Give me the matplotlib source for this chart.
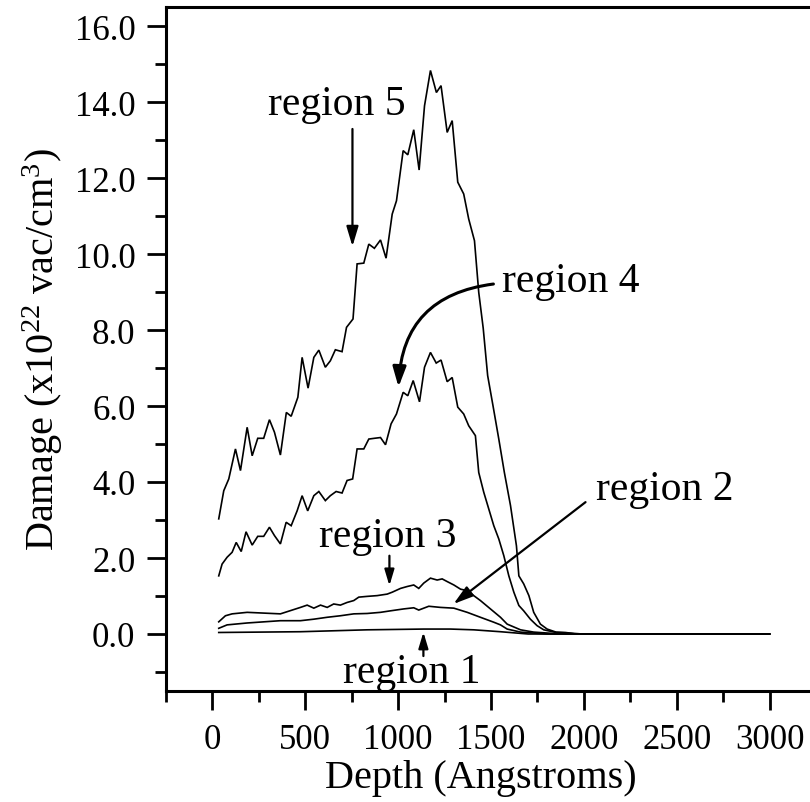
import matplotlib
matplotlib.use("Agg")
import matplotlib.pyplot as plt
from matplotlib.ticker import MultipleLocator, FormatStrFormatter

# values (depth in Angstroms, damage in 1e22 vac/cm^3)
REGION5_X = [34, 61, 88, 124, 151, 187, 214, 244, 276, 307, 334, 366, 398, 424, 460, 483,
             515, 546, 573, 608, 635, 662, 698, 722, 757, 779, 815, 842, 872, 905, 935, 968,
             991, 1027, 1052, 1084, 1113, 1142, 1174, 1206, 1231, 1264, 1291, 1321, 1353,
             1380, 1411, 1434, 1458, 1482, 1511, 1542, 1572, 1605, 1637, 1650, 1676, 1704,
             1730, 1766, 1802, 1850, 1900, 1950, 2000, 3000]
REGION5_Y = [3.03, 3.77, 4.08, 4.87, 4.30, 5.44, 4.69, 5.15, 5.15, 5.64, 5.31, 4.71, 5.83, 5.73,
             6.23, 7.28, 6.47, 7.28, 7.47, 7.02, 7.19, 7.48, 7.43, 8.07, 8.29, 9.74, 9.76, 10.26,
             10.15, 10.37, 9.89, 11.05, 11.40, 12.72, 12.61, 13.27, 12.21, 13.90, 14.83, 14.25,
             14.43, 13.20, 13.51, 11.89, 11.58, 10.92, 10.35, 8.99, 8.05, 6.80, 6.00, 5.13, 4.25,
             3.38, 2.32, 1.53, 1.32, 1.01, 0.57, 0.26, 0.13, 0.05, 0.04, 0.01, 0.0, 0.0]

REGION4_X = [34, 52, 79, 106, 128, 155, 181, 214, 244, 276, 307, 334, 366, 397, 424, 456, 483,
             513, 546, 573, 608, 635, 666, 698, 725, 755, 779, 815, 842, 872, 905, 932, 962,
             991, 1027, 1052, 1081, 1115, 1142, 1174, 1205, 1231, 1264, 1291, 1321, 1353,
             1380, 1416, 1434, 1461, 1488, 1515, 1542, 1569, 1596, 1623, 1650, 1676, 1712,
             1748, 1784, 1850, 1900, 1950, 2000, 3000]
REGION4_Y = [1.53, 1.84, 2.02, 2.15, 2.41, 2.17, 2.69, 2.34, 2.57, 2.57, 2.81, 2.59, 2.37, 2.94,
             2.85, 3.24, 3.64, 3.24, 3.64, 3.75, 3.51, 3.64, 3.75, 3.71, 4.04, 4.08, 4.87, 4.87,
             5.13, 5.15, 5.17, 4.98, 5.53, 5.79, 6.36, 6.27, 6.67, 6.11, 7.02, 7.41, 7.13, 7.21,
             6.64, 6.75, 5.97, 5.79, 5.48, 5.22, 4.25, 3.73, 3.29, 2.85, 2.50, 2.06, 1.53, 1.10,
             0.75, 0.61, 0.39, 0.22, 0.11, 0.04, 0.03, 0.01, 0.0, 0.0]

REGION3_X = [34, 70, 106, 187, 366, 474, 510, 546, 582, 618, 653, 689, 725, 761, 788, 833, 887,
             941, 968, 1013, 1049, 1084, 1111, 1138, 1174, 1210, 1237, 1264, 1300, 1336, 1372,
             1407, 1443, 1497, 1551, 1587, 1659, 1730, 1850, 2000, 3000]
REGION3_Y = [0.32, 0.48, 0.53, 0.57, 0.53, 0.70, 0.76, 0.68, 0.76, 0.70, 0.79, 0.76, 0.83, 0.88,
             0.97, 0.99, 1.01, 1.05, 1.10, 1.20, 1.25, 1.29, 1.20, 1.34, 1.47, 1.42, 1.45, 1.38,
             1.29, 1.18, 1.14, 1.01, 0.88, 0.66, 0.44, 0.26, 0.11, 0.05, 0.01, 0.0, 0.0]

REGION2_X = [34, 79, 187, 366, 474, 546, 618, 689, 761, 833, 905, 959, 1030, 1084, 1111, 1165,
             1228, 1300, 1372, 1443, 1515, 1551, 1587, 1659, 1800, 2000, 3000]
REGION2_Y = [0.15, 0.24, 0.29, 0.35, 0.35, 0.39, 0.44, 0.48, 0.53, 0.54, 0.57, 0.61, 0.66, 0.69,
             0.63, 0.73, 0.70, 0.68, 0.57, 0.44, 0.31, 0.24, 0.13, 0.05, 0.0, 0.0, 0.0]

REGION1_X = [34, 474, 833, 1138, 1282, 1407, 1551, 1700, 2000, 3000]
REGION1_Y = [0.04, 0.06, 0.11, 0.13, 0.13, 0.11, 0.06, 0.0, 0.0, 0.0]

XTICKS = [0, 500, 1000, 1500, 2000, 2500, 3000]

plt.rcParams.update({
    "font.family": ["Liberation Serif", "DejaVu Serif"],
    "mathtext.fontset": "custom",
    "mathtext.rm": "Liberation Serif",
    "mathtext.it": "Liberation Serif:italic",
    "mathtext.bf": "Liberation Serif:bold",
})

fig = plt.figure(figsize=(8.10, 8.03), dpi=100)
ax = fig.add_axes([166 / 810, 111 / 803, 650 / 810, 684 / 803])

for xs, ys in [(REGION5_X, REGION5_Y), (REGION4_X, REGION4_Y), (REGION3_X, REGION3_Y),
               (REGION2_X, REGION2_Y), (REGION1_X, REGION1_Y)]:
    ax.plot(xs, ys, color="black", linewidth=1.2, solid_joinstyle="miter")

ax.set_xlim(-250, 3250)
ax.set_ylim(-1.5, 16.5)
ax.set_xticks(XTICKS)
ax.xaxis.set_minor_locator(MultipleLocator(250))
ax.yaxis.set_major_locator(MultipleLocator(2.0))
ax.yaxis.set_minor_locator(MultipleLocator(1.0))
ax.yaxis.set_major_formatter(FormatStrFormatter("%.1f"))

for side in ["left", "bottom", "top"]:
    ax.spines[side].set_linewidth(2.2)
ax.spines["right"].set_visible(False)

ax.tick_params(which="major", direction="out", length=14, width=2.0, labelsize=25)
ax.tick_params(which="minor", direction="out", length=8, width=2.0)
ax.tick_params(axis="x", which="major", pad=9)
ax.tick_params(axis="y", which="major", pad=8)
ax.tick_params(top=False, right=False, which="both")

ax.set_xlabel("Depth (Angstroms)", fontsize=29)
ax.set_ylabel(r"Damage (x10$^{\mathrm{22}}$ vac/cm$^{\mathrm{3}}$)", fontsize=29)
ax.xaxis.set_label_coords(0.484, -0.099)
ax.yaxis.set_label_coords(-0.155, 0.5)

arrow_thin = dict(arrowstyle="-|>,head_length=0.6,head_width=0.18", color="black",
                  lw=1.6, shrinkA=0, shrinkB=0, mutation_scale=20)

ax.text(671, 13.68, "region 5", fontsize=30, ha="center", va="baseline")
ax.annotate("", xy=(754, 10.2), xytext=(754, 13.29), arrowprops=arrow_thin)

ax.text(1560, 9.03, "region 4", fontsize=30, ha="left", va="baseline")
ax.annotate("", xy=(1002, 6.5), xytext=(1513, 9.21),
            arrowprops=dict(arrowstyle="-|>,head_length=0.6,head_width=0.2", color="black",
                            lw=2.2, shrinkA=0, shrinkB=0, mutation_scale=20,
                            connectionstyle="arc3,rad=0.42"))

ax.text(944, 2.32, "region 3", fontsize=30, ha="center", va="baseline")
ax.annotate("", xy=(953, 1.27), xytext=(953, 2.06),
            arrowprops=dict(arrowstyle="-|>,head_length=0.6,head_width=0.18", color="black",
                            lw=1.6, shrinkA=0, shrinkB=0, mutation_scale=16))

ax.text(2063, 3.55, "region 2", fontsize=30, ha="left", va="baseline")
ax.annotate("", xy=(1298, 0.79), xytext=(2009, 3.47), arrowprops=arrow_thin)

ax.text(1075, -1.26, "region 1", fontsize=30, ha="center", va="baseline")
ax.annotate("", xy=(1136, 0.05), xytext=(1136, -0.58),
            arrowprops=dict(arrowstyle="-|>,head_length=0.6,head_width=0.18", color="black",
                            lw=1.6, shrinkA=0, shrinkB=0, mutation_scale=16))

fig.savefig("out.png", dpi=100)
